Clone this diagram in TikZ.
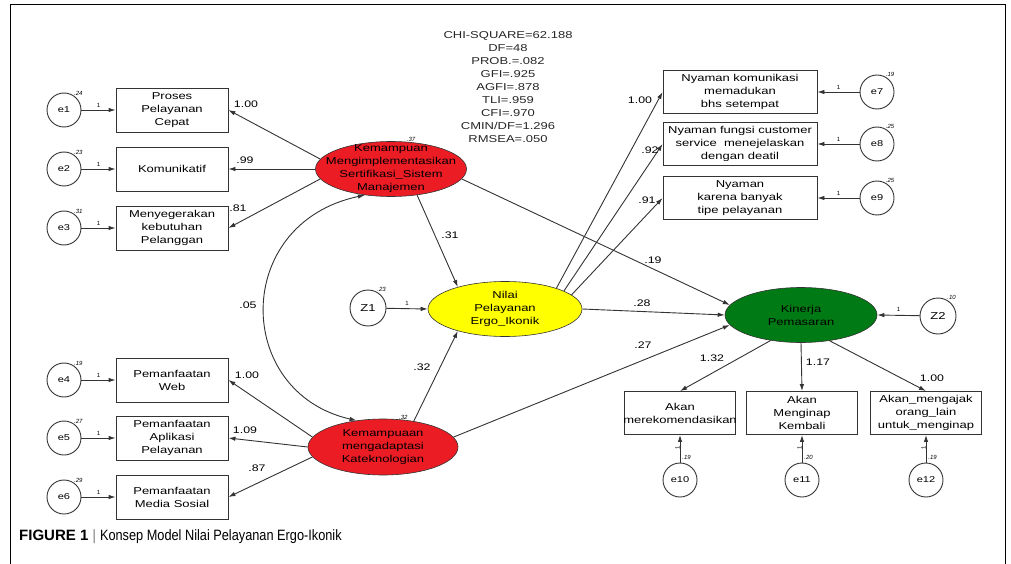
\documentclass[tikz,border=0pt]{standalone}
\usepackage{fontspec}
\setmainfont{Liberation Sans}
\newfontfamily\dfont{Liberation Sans}[FakeStretch=1.3]
\newfontfamily\capfont{Liberation Sans}[FakeStretch=0.85]
\usetikzlibrary{arrows.meta, shapes.geometric}

\definecolor{latred}{RGB}{236,28,36}
\definecolor{latyellow}{RGB}{255,255,0}
\definecolor{latgreen}{RGB}{0,122,20}

\tikzset{
  obs/.style={draw=black!80, line width=0.9pt, minimum width=112, minimum height=44, inner sep=0},
  wideobs/.style={obs, minimum width=154, minimum height=43},
  err/.style={draw=black!80, line width=0.9pt, circle, minimum size=34, inner sep=0, font=\dfont\fontsize{8.5}{10}\selectfont},
  lat/.style={draw=black!80, line width=0.6pt, ellipse, minimum width=151, minimum height=55, inner sep=0},
  intxt/.style={align=center, inner sep=0, font=\dfont\fontsize{10}{13}\selectfont},
  arr/.style={draw=black!80, line width=0.9pt, -{Latex[length=7pt,width=4.5pt]}},
  dbl/.style={draw=black!80, line width=0.9pt, {Latex[length=7pt,width=4.5pt]}-{Latex[length=7pt,width=4.5pt]}},
  coef/.style={inner sep=0, font=\dfont\fontsize{9.5}{11}\selectfont},
  fix/.style={inner sep=0, font=\fontsize{6}{7}\selectfont},
  var/.style={inner sep=0, font=\itshape\fontsize{6}{7}\selectfont},
}

\begin{document}
\begin{tikzpicture}[x=1pt, y=-1pt]

  \useasboundingbox (0,0) rectangle (1011,564);
  \draw[line width=1pt] (10,564) -- (10,5) -- (1005,5) -- (1005,564);

  % fit indices
  \node[intxt, font=\dfont\fontsize{10}{12.9}\selectfont, text=black!85] (fit) at (508,87)
    {CHI-SQUARE=62.188\\DF=48\\PROB.=.082\\GFI=.925\\AGFI=.878\\TLI=.959\\CFI=.970\\CMIN/DF=1.296\\RMSEA=.050};

  % latent variables
  \node[lat, fill=latred, label={[var]60:.37},
    label={[intxt]center:{Kemampuan\\Mengimplementasikan\\Sertifikasi\_Sistem\\Manajemen}}] (R1) at (391,169) {};
  \node[lat, minimum width=154, fill=latyellow,
    label={[intxt]center:{Nilai\\Pelayanan\\Ergo\_Ikonik}}] (Y) at (505,309) {};
  \node[lat, minimum width=150, minimum height=56, fill=latred, label={[var]60:.32},
    label={[intxt]center:{Kemampuaan\\mengadaptasi\\Kateknologian}}] (R2) at (383,447) {};
  \node[lat, minimum width=152, fill=latgreen,
    label={[intxt]center:{Kinerja\\Pemasaran}}] (G) at (801,315) {};

  \node[err, minimum size=36, font=\dfont\fontsize{10}{12}\selectfont, label={[var]60:.23}] (Z1) at (368,308) {Z1};
  \node[err, minimum size=36, font=\dfont\fontsize{10}{12}\selectfont, label={[var]60:.10}] (Z2) at (938,316) {Z2};
  \draw[arr] (Z1) -- node[fix, above=3pt] (fz1) {1} (Y.west);
  \draw[arr] (Z2) -- node[fix, above=3pt] (fz2) {1} (G.east);

  % indicators on the left
  \foreach \n/\y/\v/\t in {1/110/.24/{Proses\\Pelayanan\\Cepat}, 2/169/.23/{Komunikatif},
      3/228/.31/{Menyegerakan\\kebutuhan\\Pelanggan}, 4/380/.19/{Pemanfaatan\\Web},
      5/438/.27/{Pemanfaatan\\Aplikasi\\Pelayanan}, 6/497/.29/{Pemanfaatan\\Media Sosial}} {
    \node[obs, label={[intxt]center:\t}] (b\n) at (172,\y) {};
    \node[err, label={[var]55:\v}] (e\n) at (64,\y) {e\n};
    \draw[arr] (e\n) -- node[fix, above=2pt] (f\n) {1} (b\n);
  }

  % indicators on the right
  \foreach \n/\y/\v/\t in {7/92/.19/{Nyaman komunikasi\\memadukan\\bhs setempat},
      8/144/.25/{Nyaman fungsi customer\\service~ menejelaskan\\dengan deatil},
      9/198/.25/{Nyaman\\karena banyak\\tipe pelayanan}} {
    \node[wideobs, label={[intxt]center:\t}] (b\n) at (740,\y) {};
    \node[err, label={[var]60:\v}] (e\n) at (877,\y) {e\n};
    \draw[arr] (e\n) -- node[fix, above=2pt] (f\n) {1} (b\n);
  }

  % indicators below
  \foreach \n/\x/\v/\t in {10/680/.19/{Akan\\merekomendasikan}, 11/802/.20/{Akan\\Menginap\\Kembali},
      12/926/.19/{Akan\_mengajak\\orang\_lain\\untuk\_menginap}} {
    \node[obs, minimum width=111, minimum height=43, label={[intxt]center:\t}] (b\n) at (\x,413) {};
    \node[err] (e\n) at (\x,480) {e\n};
    \draw[arr] (e\n) -- node[fix, rotate=90, anchor=south, pos=0.55] (f\n) {1}
      node[var, anchor=west, pos=0.2, xshift=2pt] (v\n) {\v} (b\n);
  }

  % loadings
  \draw[arr] (R1.172) -- (b1.east);
  \draw[arr] (R1.west) -- (b2.east);
  \draw[arr] (R1.188) -- (b3.east);
  \draw[arr] (R2.172) -- (b4.east);
  \draw[arr] (R2.west) -- (b5.east);
  \draw[arr] (R2.188) -- (b6.east);
  \draw[arr] (Y.22) -- (b7.west);
  \draw[arr] (Y.17) -- (b8.west);
  \draw[arr] (Y.12) -- (b9.west);
  \draw[arr] (G.220) -- (b10.north);
  \draw[arr] (G.south) -- (b11.north);
  \draw[arr] (G.318) -- (b12.north);

  % structural paths
  \draw[arr] (R1.315) -- (Y.155);
  \draw[arr] (R2.40) -- (Y.205);
  \draw[arr] (R1.352) -- (G.172);
  \draw[arr] (Y.east) -- (G.west);
  \draw[arr] (R2.8) -- (G.188);
  \draw[dbl] (R1.225) .. controls +(-133,28) and +(-123,-28) .. (R2.135);

  % estimates
  \foreach \p/\lab/\nm in {{(246,104)}/1.00/c1, {(245,160)}/.99/c2, {(238,208)}/.81/c3,
      {(247,375)}/1.00/c4, {(245,430)}/1.09/c5, {(257,468)}/.87/c6,
      {(248,305)}/.05/c05, {(450,235)}/.31/c31, {(422,367)}/.32/c32,
      {(653,260)}/.19/c19, {(642,303)}/.28/c28, {(643,345)}/.27/c27,
      {(640,100)}/1.00/c7, {(650,150)}/.92/c8, {(647,200)}/.91/c9,
      {(712,358)}/1.32/c10, {(818,362)}/1.17/c11, {(932,378)}/1.00/c12} {
    \node[coef] (\nm) at \p {\lab};
  }

  % caption
  \node[anchor=west, inner sep=0, font=\fontsize{15}{18}\selectfont] (cap) at (19,537)
    {\textbf{FIGURE 1} {\capfont\color{black!55}|} {\capfont Konsep Model Nilai Pelayanan Ergo-Ikonik}};

\end{tikzpicture}
\end{document}
